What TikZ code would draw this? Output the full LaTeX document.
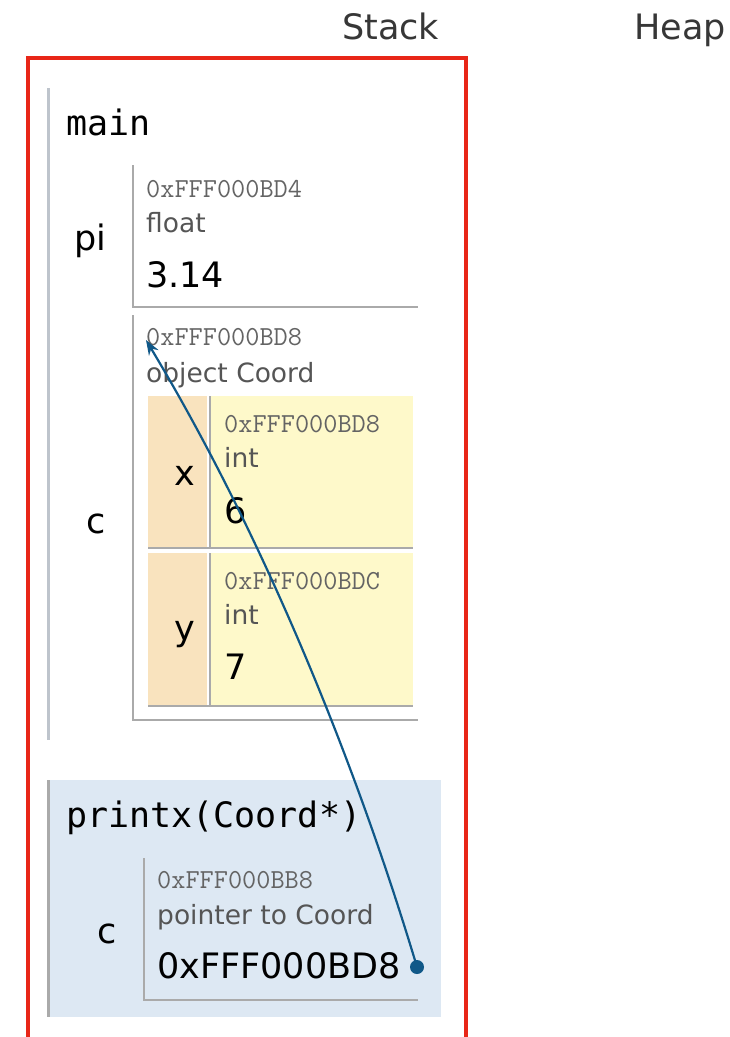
\documentclass[tikz,border=0pt]{standalone}
\usepackage{fontspec}
\setmainfont{DejaVu Sans}
\newfontfamily\framefont{DejaVu Sans Mono}
\usetikzlibrary{arrows.meta}

\definecolor{stackred}{RGB}{232,38,24}
\definecolor{headgray}{RGB}{55,55,55}
\definecolor{barcol}{RGB}{190,196,204}
\definecolor{boxline}{RGB}{170,170,170}
\definecolor{addrgray}{RGB}{100,100,100}
\definecolor{typegray}{RGB}{85,85,85}
\definecolor{framebg}{RGB}{221,232,243}
\definecolor{keybg}{RGB}{249,227,190}
\definecolor{valbg}{RGB}{254,249,202}
\definecolor{ptrcol}{RGB}{16,88,136}

\tikzset{
  heading/.style={anchor=base west, inner sep=0, text=headgray, font=\fontsize{35}{35}\selectfont},
  fname/.style={anchor=base west, inner sep=0, font=\framefont\fontsize{35}{35}\selectfont},
  varname/.style={anchor=base, inner sep=0, font=\fontsize{35}{35}\selectfont},
  addr/.style={anchor=base west, inner sep=0, text=addrgray, font=\ttfamily\fontsize{27.5}{27.5}\selectfont},
  typ/.style={anchor=base west, inner sep=0, text=typegray, font=\fontsize{26.5}{26.5}\selectfont},
  val/.style={anchor=base west, inner sep=0, font=\fontsize{35}{35}\selectfont},
  framebar/.style={draw=barcol, line width=3},
  valbox/.style={draw=boxline, line width=2},
  ptr/.style={draw=ptrcol, line width=2.2, -{Stealth[length=15,width=11]}},
}

\begin{document}
\begin{tikzpicture}[x=1pt,y=-1pt]
\clip (0,0) rectangle (730,1037);
\useasboundingbox (0,0) rectangle (730,1037);

% column headings
\node[heading] (stackhd) at (342,39) {Stack};
\node[heading] (heaphd) at (634,39) {Heap};

% stack area
\draw[stackred, line width=4] (28,58) rectangle (466,1060);

% ---- frame: main ----
\draw[framebar] (48,88) -- (48,740);
\node[fname] (mainname) at (66,135) {main};

% pi
\node[varname] (piname) at (90,250) {pi};
\draw[valbox] (133,165) -- (133,307) -- (418,307);
\node[addr] (piaddr) at (146,197) {0xFFF000BD4};
\node[typ] (pitype) at (146,232) {float};
\node[val] (pival) at (146,287) {3.14};

% c (struct Coord)
\node[varname] (cname) at (96,533) {c};
\draw[valbox] (133,315) -- (133,720) -- (418,720);
\node[addr] (caddr) at (146,345) {0xFFF000BD8};
\node[typ] (ctype) at (146,382) {object Coord};

% member x
\fill[keybg] (148,396) rectangle (207,548);
\fill[valbg] (210,396) rectangle (413,548);
\draw[valbox] (210,396) -- (210,548);
\draw[valbox] (148,548) -- (413,548);
\node[varname] (xname) at (185,485) {x};
\node[addr] (xaddr) at (224,432) {0xFFF000BD8};
\node[typ] (xtype) at (224,467) {int};
\node[val] (xval) at (224,523) {6};

% member y
\fill[keybg] (148,553) rectangle (207,706);
\fill[valbg] (210,553) rectangle (413,706);
\draw[valbox] (210,553) -- (210,706);
\draw[valbox] (148,706) -- (413,706);
\node[varname] (yname) at (185,640) {y};
\node[addr] (yaddr) at (224,589) {0xFFF000BDC};
\node[typ] (ytype) at (224,624) {int};
\node[val] (yval) at (224,679) {7};

% ---- frame: printx(Coord*) ----
\fill[framebg] (48,780) rectangle (441,1017);
\draw[valbox, line width=3] (48,780) -- (48,1017);
\node[fname] (pxname) at (66,827) {printx(Coord*)};

\node[varname] (pcname) at (107,943) {c};
\draw[valbox] (144,858) -- (144,1000) -- (418,1000);
\node[addr] (pcaddr) at (157,888) {0xFFF000BB8};
\node[typ] (pctype) at (157,924) {pointer to Coord};
\node[val] (pcval) at (157,978) {0xFFF000BD8};

% pointer from printx's c to the struct c
\node[circle, fill=ptrcol, inner sep=0, minimum size=14] (ptrdot) at (417,967) {};
\coordinate (ctarget) at (146,340);
\draw[ptr] (ptrdot.center) .. controls (357,767) and (266,540) .. (ctarget);
\end{tikzpicture}
\end{document}
